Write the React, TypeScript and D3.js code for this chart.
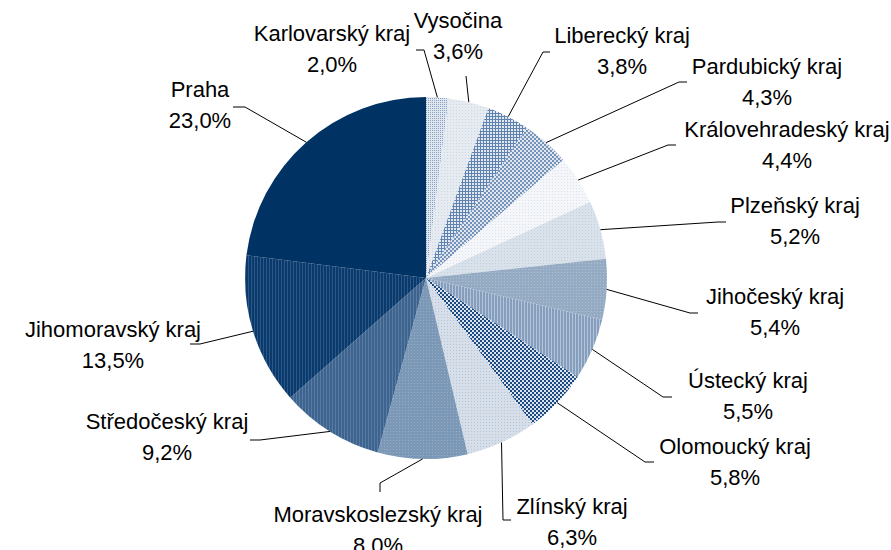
import React from "react";
import * as d3 from "d3";

const categories = [
  "Karlovarský kraj", "Vysočina", "Liberecký kraj", "Pardubický kraj",
  "Královehradeský kraj", "Plzeňský kraj", "Jihočeský kraj", "Ústecký kraj",
  "Olomoucký kraj", "Zlínský kraj", "Moravskoslezský kraj", "Středočeský kraj",
  "Jihomoravský kraj", "Praha",
];
const values = [2.0, 3.6, 3.8, 4.3, 4.4, 5.2, 5.4, 5.5, 5.8, 6.3, 8.0, 9.2, 13.5, 23.0];
const valueLabels = ["2,0%", "3,6%", "3,8%", "4,3%", "4,4%", "5,2%", "5,4%", "5,5%", "5,8%", "6,3%", "8,0%", "9,2%", "13,5%", "23,0%"];

// layout: label anchor (center x, baseline y) and leader elbow/end
const labelPos: [number, number][] = [
  [332, 41], [458, 28], [622, 43], [767, 74], [787, 137], [795, 213], [775, 304],
  [748, 388], [735, 454], [572, 514], [378, 522], [167, 429], [113, 337], [200, 97],
];
const leaderPts: [number, number][][] = [
  [[424, 50], [416, 50]],
  [[466, 76]],
  [[543, 52], [550, 52]],
  [[679, 82], [687, 82]],
  [[668, 145], [676, 145]],
  [[718, 222], [726, 222]],
  [[690, 313], [698, 313]],
  [[663, 397], [672, 397]],
  [[645, 462], [654, 462]],
  [[503, 520], [511, 520]],
  [[380, 483], [380, 492]],
  [[260, 440], [250, 440]],
  [[200, 344], [190, 344]],
  [[245, 107], [233, 107]],
];

type Pat = { id: string; base: string; fg: string; kind: string };
const patterns: Pat[] = [
  { id: "p0", base: "#dfe6ef", fg: "#8aa2c2", kind: "dots2" },
  { id: "p1", base: "#e6ebf2", fg: "#cbd6e3", kind: "dots" },
  { id: "p2", base: "#e2e8f0", fg: "#5f82ae", kind: "grid" },
  { id: "p3", base: "#dfe6ef", fg: "#7593b8", kind: "check" },
  { id: "p4", base: "#f4f6fa", fg: "#d9e1ea", kind: "dots" },
  { id: "p5", base: "#d9e1ea", fg: "#c3cfdd", kind: "dots" },
  { id: "p6", base: "#95aac3", fg: "#b0c0d3", kind: "dots" },
  { id: "p7", base: "#869ebd", fg: "#b6c5d7", kind: "vstripe" },
  { id: "p8", base: "#dbe3ed", fg: "#1c4a80", kind: "check" },
  { id: "p9", base: "#d6dfe9", fg: "#b7c6d7", kind: "dots" },
  { id: "p10", base: "#7c98b7", fg: "#97adc6", kind: "dots" },
  { id: "p11", base: "#3d648e", fg: "#5b7ca2", kind: "vstripe" },
  { id: "p12", base: "#0a3a6c", fg: "#2b5887", kind: "vstripe" },
  { id: "p13", base: "#003263", fg: "#003263", kind: "solid" },
];

function PatternDef({ p }: { p: Pat }) {
  if (p.kind === "solid") {
    return (
      <pattern id={p.id} width={4} height={4} patternUnits="userSpaceOnUse">
        <rect width={4} height={4} fill={p.base} />
      </pattern>
    );
  }
  if (p.kind === "vstripe") {
    return (
      <pattern id={p.id} width={3} height={3} patternUnits="userSpaceOnUse">
        <rect width={3} height={3} fill={p.base} />
        <rect x={2} width={1} height={3} fill={p.fg} />
      </pattern>
    );
  }
  if (p.kind === "grid") {
    return (
      <pattern id={p.id} width={3} height={3} patternUnits="userSpaceOnUse">
        <rect width={3} height={3} fill={p.base} />
        <rect width={3} height={1} fill={p.fg} />
        <rect width={1} height={3} fill={p.fg} />
      </pattern>
    );
  }
  if (p.kind === "check") {
    return (
      <pattern id={p.id} width={4} height={4} patternUnits="userSpaceOnUse">
        <rect width={4} height={4} fill={p.base} />
        <rect width={2} height={2} fill={p.fg} />
        <rect x={2} y={2} width={2} height={2} fill={p.fg} />
      </pattern>
    );
  }
  if (p.kind === "dots2") {
    return (
      <pattern id={p.id} width={2} height={2} patternUnits="userSpaceOnUse">
        <rect width={2} height={2} fill={p.base} />
        <rect width={1} height={1} fill={p.fg} />
      </pattern>
    );
  }
  return (
    <pattern id={p.id} width={3} height={3} patternUnits="userSpaceOnUse">
      <rect width={3} height={3} fill={p.base} />
      <rect width={1} height={1} fill={p.fg} />
    </pattern>
  );
}

export default function App() {
  const W = 891, H = 550;
  const cx = 426, cy = 278, R = 181;
  const pie = d3.pie<number>().sort(null).value((d) => d)(values);
  const arc = d3.arc<d3.PieArcDatum<number>>().innerRadius(0).outerRadius(R);
  const font = "'Liberation Sans', Arial, sans-serif";

  return (
    <svg width={W} height={H} style={{ position: "absolute", left: 0, top: 0, background: "#fff" }}>
      <defs>
        {patterns.map((p) => <PatternDef key={p.id} p={p} />)}
      </defs>
      <g transform={`translate(${cx},${cy})`}>
        {pie.map((s, i) => (
          <path key={i} d={arc(s) || ""} fill={`url(#${patterns[i].id})`} />
        ))}
      </g>
      {pie.map((s, i) => {
        const mid = (s.startAngle + s.endAngle) / 2;
        const x0 = cx + R * Math.sin(mid);
        const y0 = cy - R * Math.cos(mid);
        const pts: [number, number][] = [[x0, y0], ...leaderPts[i]];
        return (
          <path key={"l" + i} d={d3.line()(pts) || ""} fill="none" stroke="#000" strokeWidth={1} />
        );
      })}
      {categories.map((c, i) => (
        <text key={"t" + i} textAnchor="middle" fontFamily={font} fontSize={22} fill="#000">
          <tspan x={labelPos[i][0]} y={labelPos[i][1]}>{c}</tspan>
          <tspan x={labelPos[i][0]} y={labelPos[i][1] + 31}>{valueLabels[i]}</tspan>
        </text>
      ))}
    </svg>
  );
}
